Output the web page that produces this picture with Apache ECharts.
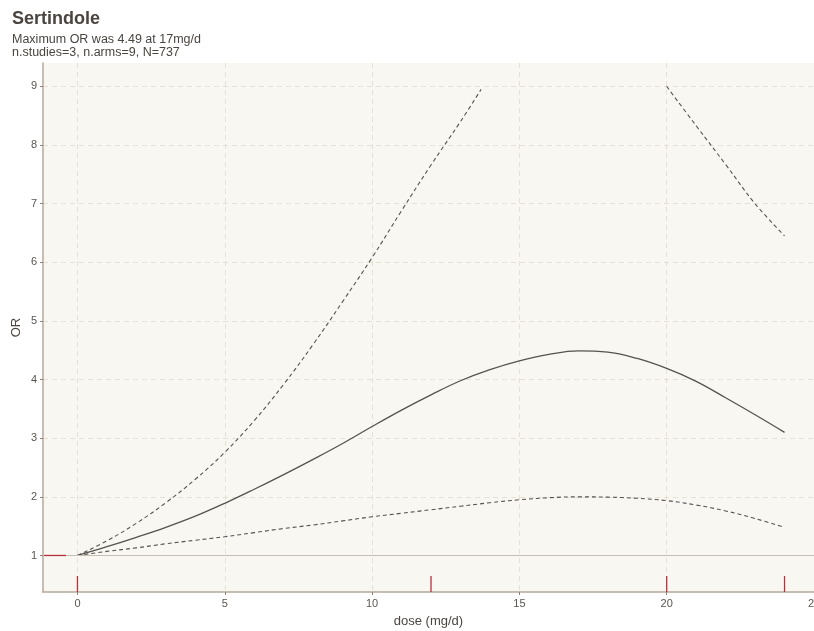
<!DOCTYPE html>
<html>
<head>
<meta charset="utf-8">
<script src="https://cdn.jsdelivr.net/npm/echarts@6/dist/echarts.min.js"></script>
<style>
  html, body { margin: 0; padding: 0; background: #ffffff; }
  #chart { width: 814px; height: 631px; }
</style>
</head>
<body>
<div id="chart"></div>
<script>
// dose grid used for the OR curve and the lower bound
const doses = [0, 1, 2, 3, 4, 5, 6, 7, 8, 9, 10, 11, 12, 13, 14, 15, 16, 17, 18, 19, 20, 21, 22, 23, 24];
const orFit = [1.00, 1.15, 1.31, 1.48, 1.67, 1.89, 2.13, 2.38, 2.64, 2.91, 3.20, 3.48, 3.74, 3.98, 4.17, 4.32, 4.43, 4.49, 4.47, 4.36, 4.19, 3.97, 3.69, 3.40, 3.10];
const orLower = [1.00, 1.07, 1.13, 1.20, 1.26, 1.32, 1.39, 1.46, 1.52, 1.59, 1.66, 1.72, 1.78, 1.84, 1.90, 1.95, 1.985, 2.00, 1.995, 1.975, 1.935, 1.86, 1.76, 1.63, 1.48];

// upper bound goes off the top between ~13.7 and 20
const upperDoses = [0, 1, 2, 3, 4, 5, 6, 7, 8, 9, 10, 11, 12, 13, 13.7, null, 20, 21, 22, 23, 24];
const orUpper = [1.00, 1.25, 1.55, 1.90, 2.30, 2.76, 3.30, 3.92, 4.60, 5.33, 6.08, 6.88, 7.66, 8.40, 8.95, null, 9.00, 8.33, 7.67, 7.00, 6.45];

// doses of the study arms (rug)
const armDoses = [0, 12, 20, 24];
const refOR = 1;

const xTicks = [0, 5, 10, 15, 20, 25];
const yTicks = [1, 2, 3, 4, 5, 6, 7, 8, 9];

const xMin = -1.17, xMax = 25;
const yMin = 0.377, yMax = 9.4;

const chart = echarts.init(document.getElementById('chart'));

const pairs = (xs, ys) => xs.map((x, i) => (x === null ? [null, null] : [x, ys[i]]));

const option = {
  backgroundColor: '#ffffff',
  animation: false,
  title: {
    text: 'Sertindole',
    subtext: 'Maximum OR was 4.49 at 17mg/d\nn.studies=3, n.arms=9, N=737',
    left: 7,
    top: 5,
    itemGap: 5,
    textStyle: {
      fontFamily: 'Liberation Sans',
      fontSize: 18,
      fontWeight: 'bold',
      color: '#4a4540'
    },
    subtextStyle: {
      fontFamily: 'Liberation Sans',
      fontSize: 12.5,
      color: '#4a4540',
      lineHeight: 13
    }
  },
  grid: {
    left: 43,
    right: 0,
    top: 63,
    bottom: 39,
    outerBoundsMode: 'none',
    containLabel: false,
    show: true,
    backgroundColor: '#f9f7f2',
    borderWidth: 0
  },
  xAxis: {
    type: 'value',
    min: xMin,
    max: xMax,
    name: 'dose (mg/d)',
    nameLocation: 'middle',
    nameGap: 23,
    nameTextStyle: { fontFamily: 'Liberation Sans', fontSize: 13, color: '#4a4540' },
    axisLine: { show: true, onZero: false, lineStyle: { color: '#b3a99c', width: 1.5 } },
    axisTick: { show: true, length: 3, customValues: xTicks, lineStyle: { color: '#8c8276' } },
    axisLabel: {
      customValues: xTicks,
      margin: 6,
      fontFamily: 'Liberation Sans',
      fontSize: 11,
      color: '#5a554f'
    },
    splitLine: { show: true, lineStyle: { color: '#e7e0d4', type: [5, 4], width: 1 } }
  },
  yAxis: {
    type: 'value',
    min: yMin,
    max: yMax,
    name: 'OR',
    nameLocation: 'middle',
    nameGap: 20,
    nameMoveOverlap: false,
    nameTextStyle: { fontFamily: 'Liberation Sans', fontSize: 13, color: '#4a4540' },
    axisLine: { show: true, onZero: false, lineStyle: { color: '#b3a99c', width: 1.5 } },
    axisTick: { show: true, length: 3, customValues: yTicks, lineStyle: { color: '#8c8276' } },
    axisLabel: {
      customValues: yTicks,
      margin: 6,
      fontFamily: 'Liberation Sans',
      fontSize: 11,
      color: '#5a554f'
    },
    splitLine: { show: true, lineStyle: { color: '#e7e0d4', type: [5, 4], width: 1 } }
  },
  series: [
    {
      name: 'ref',
      type: 'line',
      data: [],
      markLine: {
        silent: true,
        symbol: 'none',
        label: { show: false },
        lineStyle: { color: '#c6beb3', type: 'solid', width: 1 },
        data: [{ yAxis: refOR }]
      }
    },
    {
      name: 'OR',
      type: 'line',
      smooth: 0.4,
      showSymbol: false,
      lineStyle: { color: '#555350', width: 1.3 },
      data: pairs(doses, orFit)
    },
    {
      name: 'lower',
      type: 'line',
      smooth: 0.4,
      showSymbol: false,
      lineStyle: { color: '#555350', width: 1.1, type: [4, 3] },
      data: pairs(doses, orLower)
    },
    {
      name: 'upper',
      type: 'line',
      smooth: 0.4,
      showSymbol: false,
      connectNulls: false,
      lineStyle: { color: '#555350', width: 1.1, type: [4, 3] },
      data: pairs(upperDoses, orUpper)
    },
    {
      name: 'rug x',
      type: 'custom',
      silent: true,
      z: 10,
      clip: false,
      data: armDoses.map(d => [d, yMin]),
      renderItem: (params, api) => {
        const p = api.coord([api.value(0), api.value(1)]);
        return {
          type: 'line',
          shape: { x1: p[0], y1: p[1], x2: p[0], y2: p[1] - 16 },
          style: { stroke: '#b5313c', lineWidth: 1.3 }
        };
      }
    },
    {
      name: 'rug y',
      type: 'custom',
      silent: true,
      z: 10,
      clip: false,
      data: [[xMin, refOR]],
      renderItem: (params, api) => {
        const p = api.coord([api.value(0), api.value(1)]);
        return {
          type: 'line',
          shape: { x1: p[0] + 1, y1: p[1], x2: p[0] + 23, y2: p[1] },
          style: { stroke: '#b5313c', lineWidth: 1.3 }
        };
      }
    }
  ]
};

chart.setOption(option);
</script>
</body>
</html>
